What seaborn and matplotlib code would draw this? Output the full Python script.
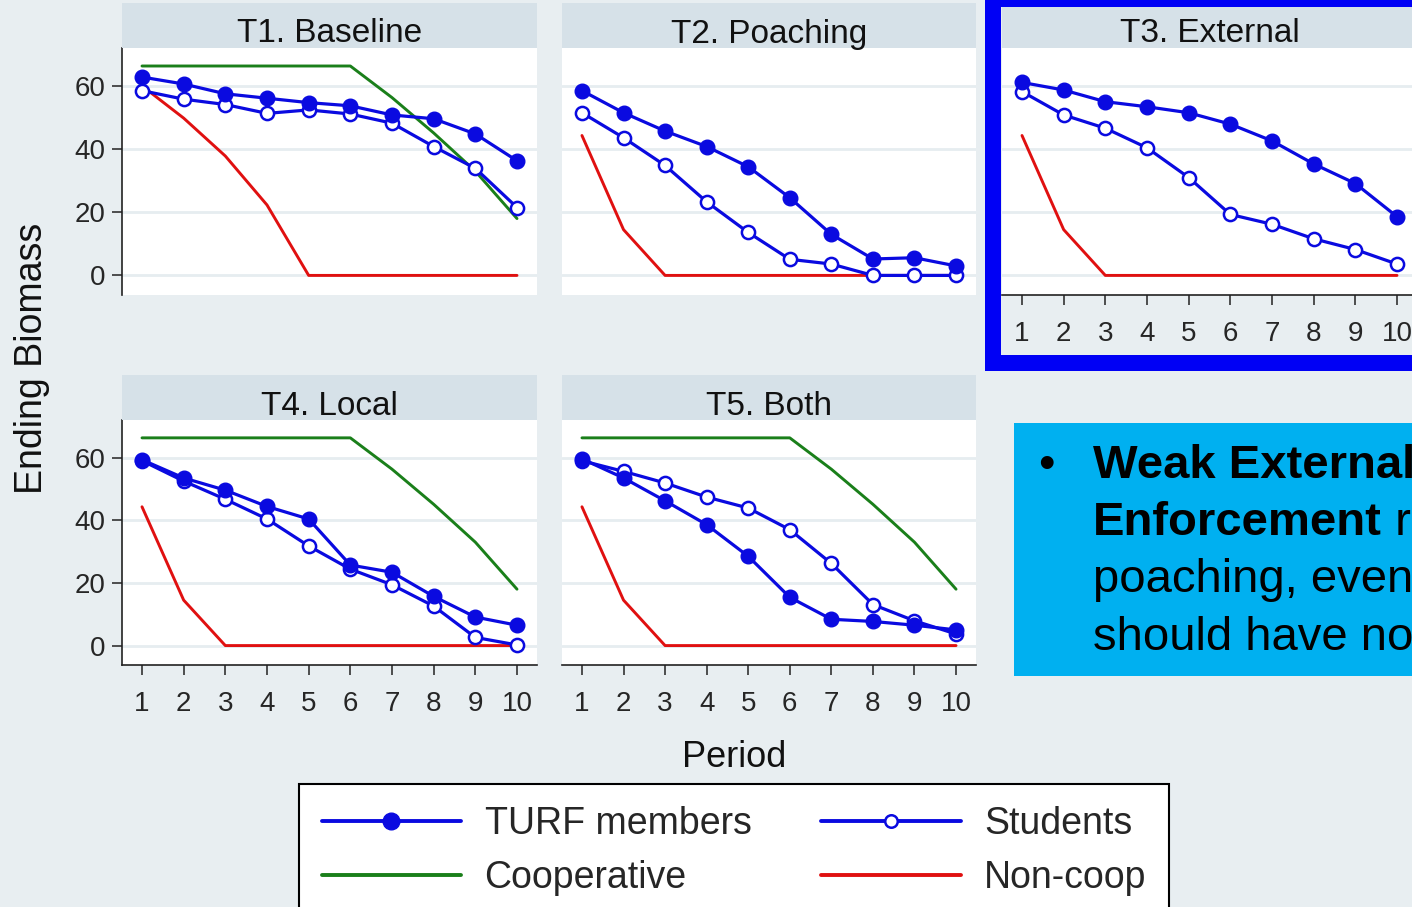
import matplotlib
matplotlib.use("Agg")
import matplotlib.pyplot as plt
from matplotlib.patches import Rectangle
import numpy as np
import pandas as pd
import seaborn as sns

# ---------------- data ----------------
periods = [1, 2, 3, 4, 5, 6, 7, 8, 9, 10]
treatments = ["T1. Baseline", "T2. Poaching", "T3. External", "T4. Local", "T5. Both"]

turf_t1 = [62.8, 60.6, 57.5, 56.1, 54.7, 53.7, 50.8, 49.6, 44.8, 36.3]
students_t1 = [58.5, 55.8, 54.1, 51.3, 52.4, 51.1, 48.2, 40.8, 33.9, 21.5]
turf_t2 = [58.5, 51.5, 45.7, 40.8, 34.4, 24.6, 13.0, 5.2, 5.6, 3.0]
students_t2 = [51.5, 43.6, 34.8, 23.3, 13.6, 5.1, 3.6, 0.0, 0.0, 0.0]
turf_t3 = [61.1, 58.7, 55.0, 53.4, 51.5, 47.9, 42.6, 35.3, 29.1, 18.6]
students_t3 = [58.2, 50.8, 46.6, 40.4, 31.0, 19.3, 16.2, 11.6, 8.2, 3.6]
turf_t4 = [59.3, 53.5, 49.6, 44.4, 40.4, 25.7, 23.4, 15.7, 9.1, 6.5]
students_t4 = [59.0, 52.5, 46.7, 40.4, 31.8, 24.4, 19.4, 12.6, 2.6, 0.2]
turf_t5 = [59.6, 53.5, 46.2, 38.6, 28.5, 15.4, 8.4, 7.7, 6.5, 5.0]
students_t5 = [59.0, 55.6, 51.9, 47.4, 43.9, 37.0, 26.2, 13.1, 7.9, 3.7]

cooperative = [66.3, 66.3, 66.3, 66.3, 66.3, 66.3, 56.3, 45.1, 33.0, 18.0]
noncoop_t1 = [60.0, 49.8, 37.8, 22.3, 0.0, 0.0, 0.0, 0.0, 0.0, 0.0]
noncoop_other = [44.3, 14.5, 0.0, 0.0, 0.0, 0.0, 0.0, 0.0, 0.0, 0.0]
coop_shown = [True, False, False, True, True]

y_ticks = [0, 20, 40, 60]
series_names = ["Cooperative", "Non-coop", "Students", "TURF members"]

turf_all = [turf_t1, turf_t2, turf_t3, turf_t4, turf_t5]
students_all = [students_t1, students_t2, students_t3, students_t4, students_t5]
noncoop_all = [noncoop_t1, noncoop_other, noncoop_other, noncoop_other, noncoop_other]

rows = []
for i, t in enumerate(treatments):
    for p, v in zip(periods, turf_all[i]):
        rows.append((t, "TURF members", p, v))
    for p, v in zip(periods, students_all[i]):
        rows.append((t, "Students", p, v))
    for p, v in zip(periods, noncoop_all[i]):
        rows.append((t, "Non-coop", p, v))
    if coop_shown[i]:
        for p, v in zip(periods, cooperative):
            rows.append((t, "Cooperative", p, v))
df = pd.DataFrame(rows, columns=["treatment", "series", "period", "biomass"])

# ---------------- style ----------------
sns.set_style("white")
plt.rcParams["font.family"] = ["Liberation Sans", "DejaVu Sans"]

BG = "#e8eef1"
STRIP = "#d6e1e8"
GRID = "#e6edf0"
BLUE = "#0a0ae0"
GREEN = "#1a7f1a"
RED = "#e01010"
FRAME = "#0000f5"
CYAN = "#00b0f0"

styles = {
    "TURF members": dict(color=BLUE, marker="o", markersize=10.5, markerfacecolor=BLUE,
                         markeredgecolor=BLUE, markeredgewidth=1.0, linewidth=2.3),
    "Students": dict(color=BLUE, marker="o", markersize=9.5, markerfacecolor="white",
                     markeredgecolor=BLUE, markeredgewidth=1.8, linewidth=2.3),
    "Cooperative": dict(color=GREEN, linewidth=2.1),
    "Non-coop": dict(color=RED, linewidth=2.1),
}

W, H = 1412, 907
fig = plt.figure(figsize=(W / 100, H / 100), dpi=100, facecolor=BG)


def fx(px):
    return px / W


def fy(py):
    return 1 - py / H


# panel boxes in pixel coords: x0, x1, y_top, y_bottom, strip_top
panels = [
    (122, 537, 48, 295, 3),
    (562, 976, 48, 295, 3),
    (1002, 1417, 48, 295, 3),
    (122, 537, 420, 665, 375),
    (562, 976, 420, 665, 375),
]
show_y = [True, False, False, True, False]
show_x = [False, False, True, True, True]

axes = []
for i, (t, (x0, x1, yt, yb, st)) in enumerate(zip(treatments, panels)):
    ax = fig.add_axes([fx(x0), fy(yb), (x1 - x0) / W, (yb - yt) / H])
    ax.set_facecolor("white")
    sub_t = df[df.treatment == t]
    for s in series_names:
        sub = sub_t[sub_t.series == s]
        if sub.empty:
            continue
        sns.lineplot(data=sub, x="period", y="biomass", ax=ax, errorbar=None,
                     legend=False, label=s, **styles[s])
    ax.set_xlim(0.52, 10.48)
    ax.set_ylim(-6.2, 72.0)
    ax.set_xlabel("")
    ax.set_ylabel("")
    ax.set_yticks(y_ticks)
    ax.set_xticks(periods)
    ax.yaxis.grid(True, color=GRID, linewidth=2)
    ax.xaxis.grid(False)
    ax.set_axisbelow(True)
    for sp in ax.spines.values():
        sp.set_visible(False)
    if show_y[i]:
        ax.spines["left"].set_visible(True)
        ax.spines["left"].set_color("#222222")
        ax.spines["left"].set_linewidth(1.2)
        ax.tick_params(axis="y", length=7, width=1.1, color="#222222",
                       labelsize=20, pad=5, left=True, labelleft=True)
    else:
        ax.tick_params(axis="y", length=0, left=False, labelleft=False)
    if show_x[i]:
        ax.spines["bottom"].set_visible(True)
        ax.spines["bottom"].set_color("#222222")
        ax.spines["bottom"].set_linewidth(1.2)
        ax.tick_params(axis="x", length=7, width=1.1, color="#222222",
                       labelsize=20, pad=12, bottom=True, labelbottom=True)
    else:
        ax.tick_params(axis="x", length=0, bottom=False, labelbottom=False)
    # strip header
    fig.add_artist(Rectangle((fx(x0), fy(yt)), (x1 - x0) / W, (yt - st) / H,
                             transform=fig.transFigure, facecolor=STRIP,
                             edgecolor="none", zorder=1))
    fig.text(fx((x0 + x1) / 2), fy(yt - 5.5), t, ha="center", va="baseline",
             fontsize=24, color="#111111", zorder=2)
    axes.append(ax)

# blue frame around T3
for (a, b, c, d) in [(985, 1001, 0, 371), (985, 1420, 355, 371), (985, 1420, 0, 7)]:
    fig.add_artist(Rectangle((fx(a), fy(d)), (b - a) / W, (d - c) / H,
                             transform=fig.transFigure, facecolor=FRAME,
                             edgecolor="none", zorder=6))

# axis titles
fig.text(fx(42), fy(358), "Ending Biomass", rotation=90, rotation_mode="anchor",
         ha="center", va="baseline", fontsize=27, color="#111111")
fig.text(fx(734.5), fy(767), "Period", ha="center", va="baseline",
         fontsize=26, color="#111111")

# legend
handles, labels = axes[0].get_legend_handles_labels()
hmap = dict(zip(labels, handles))
order = ["TURF members", "Cooperative", "Students", "Non-coop"]
leg = fig.legend([hmap[k] for k in order], order, loc="upper left",
                 bbox_to_anchor=(fx(299), fy(784)), bbox_transform=fig.transFigure,
                 ncol=2, frameon=True, fancybox=False, edgecolor="black",
                 facecolor="white", framealpha=1, fontsize=27, handlelength=3.73,
                 handletextpad=0.62, columnspacing=1.85, borderpad=0.6,
                 labelspacing=0.48, borderaxespad=0)
leg.get_frame().set_linewidth(1.5)
for h in leg.legend_handles:
    h.set_linewidth(2.8)
leg.legend_handles[0].set_markersize(12)
leg.legend_handles[2].set_markersize(9)

# text box (text runs past the right edge, as in the original slide)
fig.add_artist(Rectangle((fx(1014), fy(676)), (1420 - 1014) / W, (676 - 423) / H,
                         transform=fig.transFigure, facecolor=CYAN,
                         edgecolor="none", zorder=1))
fig.text(fx(1038), fy(478), "\u2022", ha="left", va="baseline", fontsize=34,
         color="black", zorder=2)
fig.text(fx(1093), fy(478), "Weak External", ha="left", va="baseline",
         fontsize=34, fontweight="bold", color="black", zorder=2)
t2 = fig.text(fx(1093), fy(535), "Enforcement", ha="left", va="baseline",
              fontsize=34, fontweight="bold", color="black", zorder=2)
renderer = fig.canvas.get_renderer()
bb = t2.get_window_extent(renderer=renderer)
fig.text(bb.x1 / W, fy(535), " r", ha="left", va="baseline",
         fontsize=34, color="black", zorder=2)
fig.text(fx(1093), fy(592), "poaching, even", ha="left", va="baseline",
         fontsize=34, color="black", zorder=2)
fig.text(fx(1093), fy(650), "should have no", ha="left", va="baseline",
         fontsize=34, color="black", zorder=2)

fig.savefig("out.png", dpi=100, facecolor=BG)
